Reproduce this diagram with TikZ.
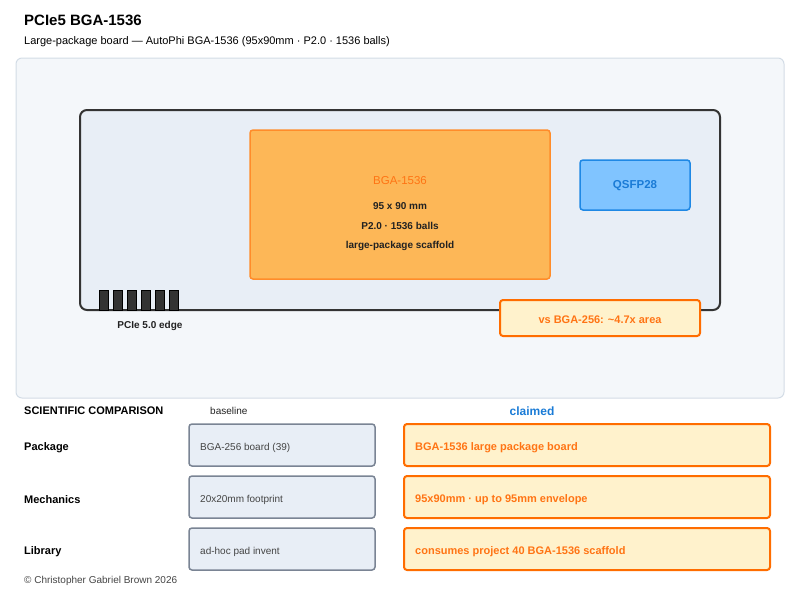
\documentclass[tikz,border=0pt]{standalone}
\usepackage{fontspec}
\setmainfont{Liberation Sans}
\usepackage{xcolor}
\definecolor{panelbg}{HTML}{F4F7FA}
\definecolor{panelline}{HTML}{D3DCE6}
\definecolor{boardbg}{HTML}{E8EEF6}
\definecolor{boardline}{HTML}{333333}
\definecolor{chipfill}{HTML}{FDB757}
\definecolor{chipline}{HTML}{FF8C2A}
\definecolor{hotorange}{HTML}{FF6D00}
\definecolor{txtorange}{HTML}{FF7414}
\definecolor{creamfill}{HTML}{FFF2CC}
\definecolor{qsfpfill}{HTML}{80C4FF}
\definecolor{qsfpline}{HTML}{1E88E5}
\definecolor{qsfptext}{HTML}{1A7BD6}
\definecolor{baseline}{HTML}{7A8494}
\definecolor{darktext}{HTML}{222222}
\definecolor{graytext}{HTML}{444444}
\newcommand{\fs}[1]{\fontsize{#1}{#1}\selectfont}
\tikzset{
  basebox/.style={draw=baseline,line width=1.5pt,fill=boardbg,rounded corners=3pt},
  claimbox/.style={draw=hotorange,line width=2pt,fill=creamfill,rounded corners=3pt},
  rowlabel/.style={anchor=west,inner sep=0pt,font=\fs{11}\bfseries,text=black},
  basetext/.style={anchor=west,inner sep=0pt,font=\fs{10},text=graytext},
  claimtext/.style={anchor=west,inner sep=0pt,font=\fs{11}\bfseries,text=txtorange},
  pin/.style={draw=black,fill=boardline,line width=0.8pt}
}
\begin{document}
\begin{tikzpicture}[x=1pt,y=-1pt]
    \useasboundingbox (0,0) rectangle (800,600);
    % title
    \node[anchor=west,inner sep=0pt,font=\fs{15}\bfseries] (title) at (24,20) {PCIe5 BGA-1536};
    \node[anchor=west,inner sep=0pt,font=\fs{11}] (subtitle) at (24,42) {Large-package board — AutoPhi BGA-1536 (95x90mm · P2.0 · 1536 balls)};
    % panel and board
    \draw[panelline,fill=panelbg,line width=1pt,rounded corners=6pt] (16,58) rectangle (784,398);
    \draw[boardline,fill=boardbg,line width=2pt,rounded corners=7pt] (80,110) rectangle (720,310);
    % chip
    \draw[chipline,fill=chipfill,line width=1.5pt,rounded corners=3pt] (250,130) rectangle (550,279);
    \node[font=\fs{11.5},text=txtorange] (chipname) at (400,181) {BGA-1536};
    \node[font=\fs{10}\bfseries,text=darktext] (chipsize) at (400,206) {95 x 90 mm};
    \node[font=\fs{10}\bfseries,text=darktext] (chippitch) at (400,226) {P2.0 · 1536 balls};
    \node[font=\fs{10}\bfseries,text=darktext] (chipnote) at (400,246) {large-package scaffold};
    % qsfp cage
    \draw[qsfpline,fill=qsfpfill,line width=1.5pt,rounded corners=3pt] (580,160) rectangle (690,210);
    \node[font=\fs{11.5}\bfseries,text=qsfptext] (qsfp) at (635,186) {QSFP28};
    % edge fingers
    \foreach \i in {0,...,5}
        \draw[pin] (99+14*\i,290) rectangle (108+14*\i,310);
    \node[font=\fs{10}\bfseries,text=darktext] (edge) at (150,326) {PCIe 5.0 edge};
    % area ratio
    \draw[claimbox] (500,300) rectangle (700,336);
    \node[font=\fs{11}\bfseries,text=txtorange] (ratio) at (600,320) {vs BGA-256: \textasciitilde4.7x area};
    % comparison
    \node[rowlabel] (cmphead) at (24,411) {SCIENTIFIC COMPARISON};
    \node[basetext,text=darktext] (basehead) at (210,411) {baseline};
    \node[font=\fs{12}\bfseries,text=qsfptext] (claimhead) at (532,411) {claimed};
    \foreach \y/\lab/\base/\claim in {
        424/Package/{BGA-256 board (39)}/{BGA-1536 large package board},
        476/Mechanics/{20x20mm footprint}/{95x90mm · up to 95mm envelope},
        528/Library/{ad-hoc pad invent}/{consumes project 40 BGA-1536 scaffold}}{
        \node[rowlabel] (lab\y) at (24,\y+23.5) {\lab};
        \draw[basebox] (189,\y) rectangle (375,\y+42);
        \node[basetext] (base\y) at (200,\y+24) {\base};
        \draw[claimbox] (404,\y) rectangle (770,\y+42);
        \node[claimtext] (claim\y) at (415,\y+24) {\claim};
    }
    \node[anchor=west,inner sep=0pt,font=\fs{10},text=graytext] (footer) at (24,581) {\textcopyright{} Christopher Gabriel Brown 2026};
\end{tikzpicture}
\end{document}
